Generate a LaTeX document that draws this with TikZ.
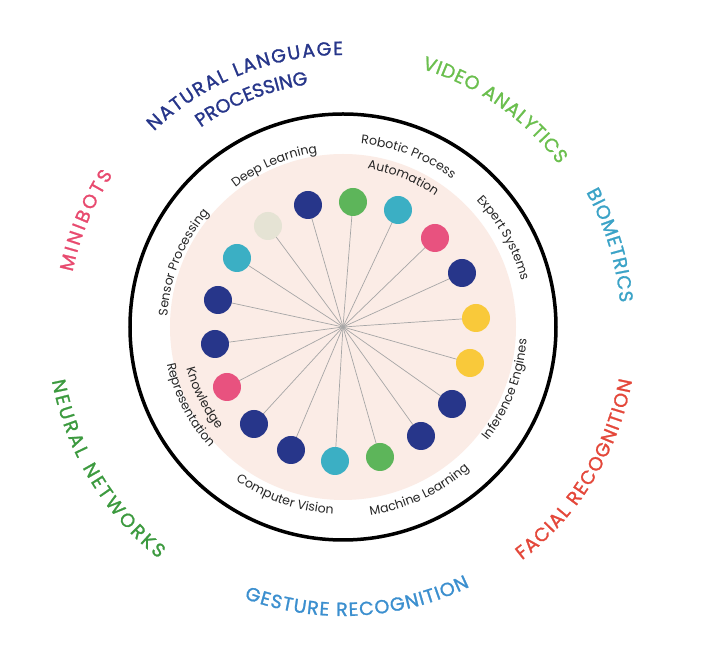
\documentclass[tikz,border=0pt]{standalone}
\usepackage{fontspec}
\setmainfont{Poppins}
\newfontfamily\outfont{Poppins}[FakeBold=1.3]
\usetikzlibrary{decorations.text}
\definecolor{navy}{HTML}{27368A}
\definecolor{grn}{HTML}{5DB55A}
\definecolor{teal}{HTML}{3BAFC4}
\definecolor{pnk}{HTML}{E8527F}
\definecolor{yel}{HTML}{F9C93A}
\definecolor{beig}{HTML}{E5E3D4}
\definecolor{disc}{HTML}{FBECE6}
\definecolor{cVid}{HTML}{6BBF4E}
\definecolor{cBio}{HTML}{3BA3C7}
\definecolor{cFac}{HTML}{E4473A}
\definecolor{cGes}{HTML}{3B8FCF}
\definecolor{cNeu}{HTML}{3C9A3F}
\definecolor{cMin}{HTML}{E84A6F}
\newcommand\arctop[5]{\path[decorate,decoration={text along path,text align=center,text={|#4|#5}}] ({#1+#3}:#2) arc[start angle={#1+#3},end angle={#1-#3},radius=#2];}
\newcommand\arcbot[5]{\path[decorate,decoration={text along path,text align=center,text={|#4|#5}}] ({#1-#3}:#2) arc[start angle={#1-#3},end angle={#1+#3},radius=#2];}
\newcommand\fittop[5]{\path[decorate,decoration={text along path,text align=fit to path,text={|#4|#5}}] ({#1+#3}:#2) arc[start angle={#1+#3},end angle={#1-#3},radius=#2];}
\newcommand\fitbot[5]{\path[decorate,decoration={text along path,text align=fit to path,text={|#4|#5}}] ({#1-#3}:#2) arc[start angle={#1-#3},end angle={#1+#3},radius=#2];}
\newcommand\inner{\fontsize{12.5}{12.5}\selectfont\color{black!85}}
\newcommand\outerf[1]{\outfont\fontsize{19}{19}\selectfont\color{#1}}
\begin{document}
\begin{tikzpicture}[x=1pt,y=1pt,dot/.style={circle,draw=none,minimum size=28pt,inner sep=0pt},spoke/.style={draw=gray!70,line width=0.7pt}]
\useasboundingbox (-343,-328) rectangle (359,327);
\fill[white] (-343,-328) rectangle (359,327);
\fill[disc] (0,0) circle (173);
\draw[line width=3.5pt] (0,0) circle (213);
\coordinate (c) at (0,0);
\foreach \n/\x/\y in {1/-35/122,2/10/125,3/55/117,4/92/89,5/119/54,6/133/9,7/127/-36,8/109/-77,9/78/-109,10/37/-130,11/-8/-134,12/-52/-123,13/-89/-97,14/-116/-60,15/-128/-17,16/-125/27,17/-106/69,18/-75/101}{\coordinate (p\n) at (\x,\y);}
\foreach \n in {1,...,18}{\draw[spoke] (c) -- (p\n);}
\foreach \n/\col in {1/navy,2/grn,3/teal,4/pnk,5/navy,6/yel,7/yel,8/navy,9/navy,10/grn,11/teal,12/navy,13/navy,14/pnk,15/navy,16/navy,17/teal,18/beig}{\node[dot,fill=\col] (d\n) at (p\n) {};}
% inner labels
\arctop{113}{176}{25}{\inner}{Deep Learning}
\arctop{69}{184}{25}{\inner}{Robotic Process}
\arctop{68}{160}{25}{\inner}{Automation}
\arctop{29}{184}{25}{\inner}{Expert Systems}
\arctop{158}{176}{30}{\inner}{Sensor Processing}
\arcbot{-21}{184}{30}{\inner}{Inference Engines}
\arcbot{-65}{190}{28}{\inner}{Machine Learning}
\arcbot{-109}{187}{28}{\inner}{Computer Vision}
\arcbot{-153}{162}{25}{\inner}{Knowledge}
\arcbot{-153}{180}{25}{\inner}{Representation}
% outer labels
\fittop{157.5}{276}{11}{\outerf{cMin}}{MINIBOTS}
\fittop{112}{272}{22}{\outerf{navy}}{NATURAL LANGUAGE}
\fittop{112}{245}{13.5}{\outerf{navy}}{PROCESSING}
\fittop{55}{270}{18}{\outerf{cVid}}{VIDEO ANALYTICS}
\fittop{17}{278}{12}{\outerf{cBio}}{BIOMETRICS}
\fitbot{-31.5}{294}{21}{\outerf{cFac}}{FACIAL RECOGNITION}
\fitbot{-87}{289}{23}{\outerf{cGes}}{GESTURE RECOGNITION}
\fitbot{-149}{296}{20.5}{\outerf{cNeu}}{NEURAL NETWORKS}
\end{tikzpicture}
\end{document}
